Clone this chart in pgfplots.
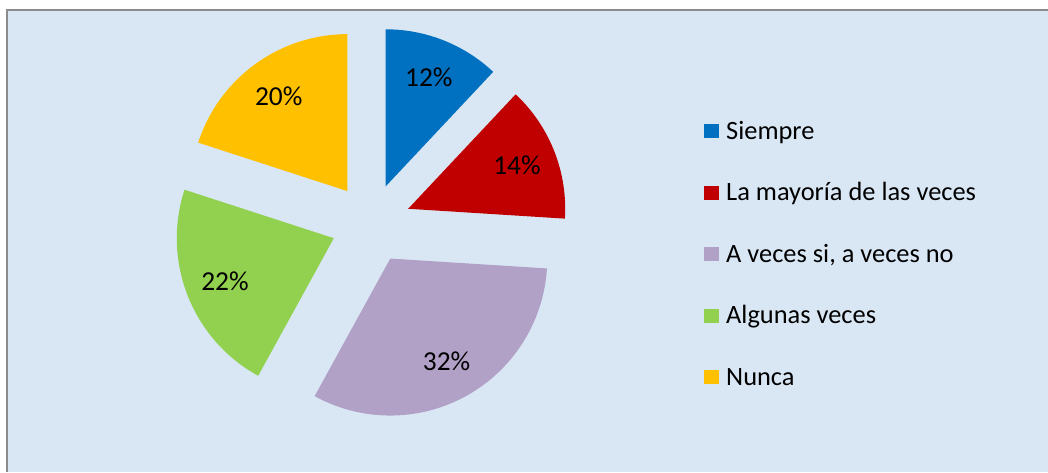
\documentclass[border=0pt]{standalone}
\usepackage{pgfplots}
\pgfplotsset{compat=1.18}
\usepackage{fontspec}
\setmainfont{Carlito}
\definecolor{cblue}{HTML}{0070C0}
\definecolor{cred}{HTML}{C00000}
\definecolor{cpurple}{HTML}{B2A1C7}
\definecolor{cgreen}{HTML}{92D050}
\definecolor{cyellow}{HTML}{FFC000}
\definecolor{bgblue}{HTML}{D9E7F4}
\newcommand\pctfont{\fontsize{27.5}{30}\selectfont}
% pie geometry (in picture pixels)
\def\cx{371}\def\cy{248.5}\def\explode{40}\def\rad{157}\def\lab{117}
\gdef\curang{90}
\newcommand\slice[3]{% #1 value (percent), #2 colour, #3 label
  \pgfmathsetmacro\startang{\curang}%
  \pgfmathsetmacro\endang{\startang-3.6*#1}%
  \pgfmathsetmacro\midang{(\startang+\endang)/2}%
  \pgfmathsetmacro\apx{\cx+\explode*cos(\midang)}%
  \pgfmathsetmacro\apy{\cy+\explode*sin(\midang)}%
  \pgfmathsetmacro\lx{\apx+\lab*cos(\midang)}%
  \pgfmathsetmacro\ly{\apy+\lab*sin(\midang)}%
  \edef\doit{\noexpand\addplot[fill=#2, draw=none, domain=\endang:\startang, samples=90, forget plot]
    ({\apx+\rad*cos(x)},{\apy+\rad*sin(x)}) -- (axis cs:\apx,\apy) -- cycle;
    \noexpand\node[font=\noexpand\pctfont, inner sep=0pt] at (axis cs:\lx,\ly) {#3};}%
  \doit
  \global\let\curang\endang
}
\begin{document}
\begin{tikzpicture}
\begin{axis}[
  width=1048bp, height=472bp, scale only axis,
  xmin=0, xmax=1048, ymin=0, ymax=472,
  hide axis, clip=true,
  legend style={at={(axis cs:704,353)}, anchor=north west, draw=none, fill=none,
    inner sep=0pt, row sep=35.5bp, column sep=7bp,
    nodes={inner sep=0pt, text height=20bp, text depth=6bp, font=\fontsize{26.5}{30}\selectfont}},
  legend cell align=left,
  legend image code/.code={\fill[#1] (0bp,-6bp) rectangle (15bp,8bp);},
]
\fill[white] (axis cs:0,0) rectangle (axis cs:1048,472);
\fill[bgblue] (axis cs:8,0) rectangle (axis cs:1048,461);
\draw[color=black!45, line width=2bp] (axis cs:7,0) -- (axis cs:7,462) -- (axis cs:1048,462);
\slice{12}{cblue}{12\%}
\slice{14}{cred}{14\%}
\slice{32}{cpurple}{32\%}
\slice{22}{cgreen}{22\%}
\slice{20}{cyellow}{20\%}
\addlegendimage{fill=cblue, draw=none}\addlegendentry{Siempre}
\addlegendimage{fill=cred, draw=none}\addlegendentry{La mayoría de las veces}
\addlegendimage{fill=cpurple, draw=none}\addlegendentry{A veces si, a veces no}
\addlegendimage{fill=cgreen, draw=none}\addlegendentry{Algunas veces}
\addlegendimage{fill=cyellow, draw=none}\addlegendentry{Nunca}
\end{axis}
\end{tikzpicture}
\end{document}
